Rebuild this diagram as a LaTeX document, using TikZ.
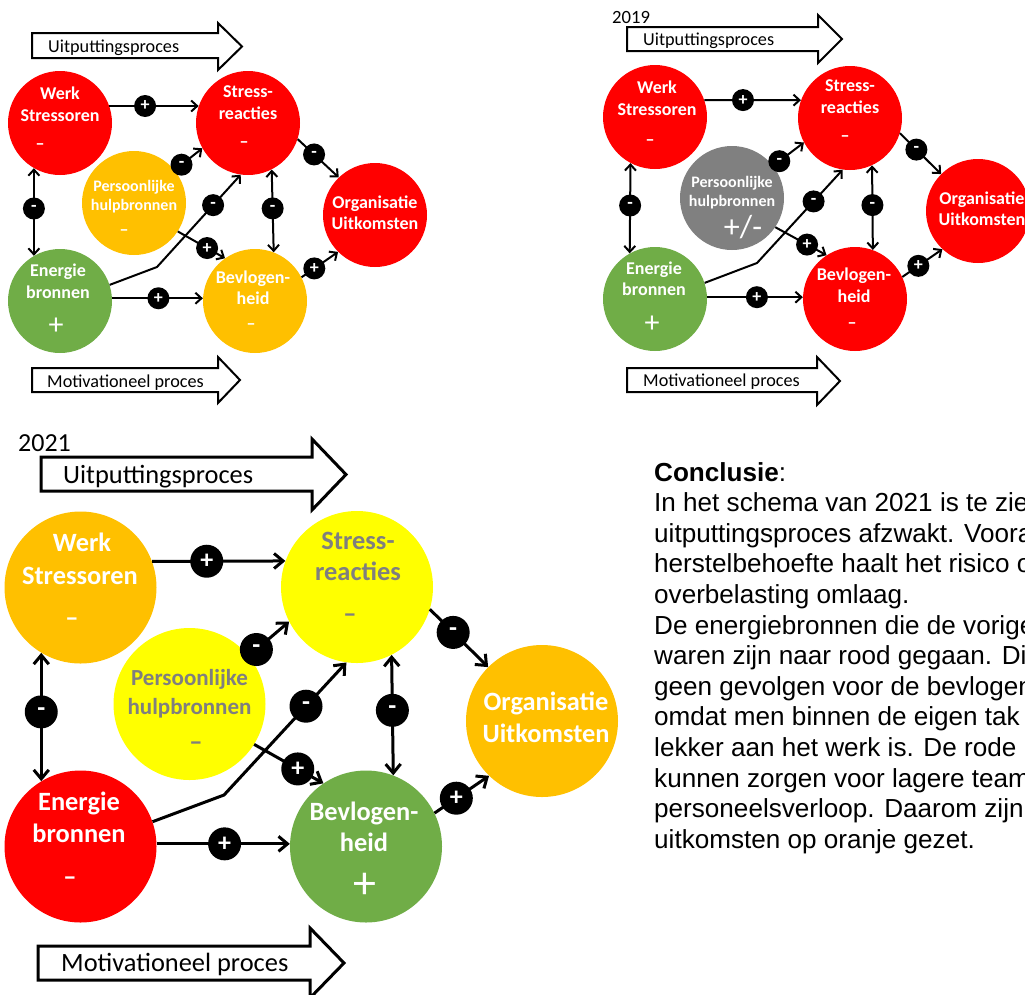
\documentclass[tikz,border=0pt]{standalone}
\usepackage{fontspec}
\setmainfont{Carlito}
\newfontfamily\arialfont{Liberation Sans}
\usetikzlibrary{arrows.meta}
\definecolor{cred}{RGB}{255,0,0}
\definecolor{corange}{RGB}{255,192,0}
\definecolor{cgreen}{RGB}{112,173,71}
\definecolor{cyellow}{RGB}{255,255,0}
\definecolor{cgrey}{RGB}{128,128,128}
\definecolor{ctxtgrey}{RGB}{127,127,127}
\begin{document}
\begin{tikzpicture}[x=1pt,y=-1pt,
  bubS/.style={circle, minimum size=104pt, inner sep=0pt},
  bubL/.style={circle, minimum size=152pt, inner sep=0pt},
  lblS/.style={anchor=base, inner sep=0pt, text=white, font=\bfseries\fontsize{18}{18}\selectfont},
  lblSs/.style={lblS, font=\bfseries\fontsize{16}{16}\selectfont},
  sgnS/.style={anchor=base, inner sep=0pt, text=white, font=\fontsize{30}{30}\selectfont},
  lblL/.style={anchor=base, inner sep=0pt, text=white, font=\bfseries\fontsize{26.4}{26.4}\selectfont},
  lblLs/.style={lblL, font=\bfseries\fontsize{23}{23}\selectfont},
  sgnL/.style={anchor=base, inner sep=0pt, text=white, font=\fontsize{46}{46}\selectfont},
  badS/.style={circle, fill=black, minimum size=22pt, inner sep=0pt, text=white, font=\bfseries\fontsize{18}{18}\selectfont},
  badL/.style={circle, fill=black, minimum size=33pt, inner sep=0pt, text=white, font=\bfseries\fontsize{26}{26}\selectfont},
  conS/.style={line width=2pt, -{Straight Barb[length=6pt,width=11pt]}},
  dconS/.style={line width=2pt, {Straight Barb[length=6pt,width=11pt]}-{Straight Barb[length=6pt,width=11pt]}},
  conL/.style={line width=3pt, -{Straight Barb[length=9pt,width=15pt]}},
  dconL/.style={line width=3pt, {Straight Barb[length=9pt,width=15pt]}-{Straight Barb[length=9pt,width=15pt]}},
  blkS/.style={draw=black, line width=2pt, fill=white},
  blkL/.style={draw=black, line width=3pt, fill=white},
  arrS/.style={anchor=base west, inner sep=0pt, font=\fontsize{18.2}{18.2}\selectfont},
  arrL/.style={anchor=base west, inner sep=0pt, font=\fontsize{26.4}{26.4}\selectfont},
  yrS/.style={anchor=base west, inner sep=0pt, font=\fontsize{18.7}{18.7}\selectfont},
  yrL/.style={anchor=base west, inner sep=0pt, font=\fontsize{26}{26}\selectfont},
  body/.style={anchor=base west, inner sep=0pt, font=\arialfont\fontsize{26.1}{30}\selectfont},
]
\useasboundingbox (0,0) rectangle (1025,994);
\clip (0,0) rectangle (1025,994);

% ================= TOP LEFT =================
\draw[blkS] (32,33) -- (218,33) -- (218,23) -- (242,46.5) -- (218,70) -- (218,58) -- (32,58) -- cycle;
\node[arrS] (tlU) at (48,52.7) {Uitputtingsproces};
\draw[blkS] (32,368) -- (218,368) -- (218,357) -- (240,380) -- (218,403) -- (218,392) -- (32,392) -- cycle;
\node[arrS] (tlM) at (47,387) {Motivationeel proces};

\node[bubS, fill=cred] (tlW) at (60,123) {};
\node[bubS, fill=cred] (tlS) at (248,123) {};
\node[bubS, fill=corange] (tlP) at (134,203) {};
\node[bubS, fill=cred] (tlO) at (375,215) {};
\node[bubS, fill=cgreen] (tlE) at (60,301) {};
\node[bubS, fill=corange] (tlB) at (255,301) {};

\node[lblS] (tlWa) at (60,99) {Werk};
\node[lblS] (tlWb) at (60,121) {Stressoren};
\node[lblS] (tlWc) at (40,149) {–};
\node[lblS] (tlSa) at (248,97) {Stress-};
\node[lblS] (tlSb) at (248,119) {reacties};
\node[lblS] (tlSc) at (244,147) {–};
\node[lblSs] (tlPa) at (134,191) {Persoonlijke};
\node[lblSs] (tlPb) at (134,210) {hulpbronnen};
\node[lblS] (tlPc) at (124,235) {–};
\node[lblS] (tlOa) at (375,208) {Organisatie};
\node[lblS] (tlOb) at (375,229) {Uitkomsten};
\node[lblS] (tlEa) at (58,276) {Energie};
\node[lblS] (tlEb) at (58,298) {bronnen};
\node[sgnS] (tlEc) at (56,334) {+};
\node[lblS] (tlBa) at (253,283) {Bevlogen-};
\node[lblS] (tlBb) at (253,304) {heid};
\node[lblS] (tlBc) at (251,329) {–};

\coordinate (tlK) at (157,267);
\draw[conS] (tlW.19) -- node[badS,pos=.4] (tlb1) {+} (tlS.161);
\draw[conS] (tlS.-18) -- node[badS,pos=.4] (tlb2) {-} (tlO.134);
\draw[conS] (tlP.39) -- node[badS,pos=.25] (tlb3) {-} (tlS.-151);
\draw[conS] (tlE.18) -- (tlK) -- node[badS,pos=.67] (tlb4) {-} (tlS.-98);
\draw[conS] (tlP.-33) -- node[badS,pos=.62] (tlb5) {+} (tlB.125);
\draw[dconS] (tlS.-63) -- node[badS,pos=.47] (tlb6) {-} (tlB.69);
\draw[dconS] (tlW.-120) -- node[badS,pos=.46] (tlb7) {-} (tlE.120);
\draw[conS] (tlE.3) -- node[badS,pos=.51] (tlb8) {+} (tlB.177);
\draw[conS] (tlB.27) -- node[badS,pos=.35] (tlb9) {+} (tlO.-135);

% ================= TOP RIGHT =================
\node[yrS] (trY) at (612,23) {2019};
\draw[blkS] (627,27) -- (818,27) -- (818,15) -- (842,39) -- (818,63) -- (818,51) -- (627,51) -- cycle;
\node[arrS] (trU) at (643,45) {Uitputtingsproces};
\draw[blkS] (627,368) -- (817,368) -- (817,357) -- (840,381) -- (817,405) -- (817,392) -- (627,392) -- cycle;
\node[arrS] (trM) at (643,386) {Motivationeel proces};

\node[bubS, fill=cred] (trW) at (655,117) {};
\node[bubS, fill=cred] (trS) at (850,118) {};
\node[bubS, fill=cgrey] (trP) at (732,198) {};
\node[bubS, fill=cred] (trO) at (978,211) {};
\node[bubS, fill=cgreen] (trE) at (655,299) {};
\node[bubS, fill=cred] (trB) at (855,299) {};

\node[lblS] (trWa) at (657,93) {Werk};
\node[lblS] (trWb) at (657,115) {Stressoren};
\node[lblS] (trWc) at (650,145) {–};
\node[lblS] (trSa) at (850,91) {Stress-};
\node[lblS] (trSb) at (850,113) {reacties};
\node[lblS] (trSc) at (845,141) {–};
\node[lblSs] (trPa) at (732,187) {Persoonlijke};
\node[lblSs] (trPb) at (732,206) {hulpbronnen};
\node[anchor=base, inner sep=0pt, text=white, font=\fontsize{32}{32}\selectfont] (trPc) at (743,237.5) {+/-};
\node[lblS] (trOa) at (982,204) {Organisatie};
\node[lblS] (trOb) at (982,225) {Uitkomsten};
\node[lblS] (trEa) at (654,274) {Energie};
\node[lblS] (trEb) at (654,295) {bronnen};
\node[sgnS] (trEc) at (652,332) {+};
\node[lblS] (trBa) at (854,280) {Bevlogen-};
\node[lblS] (trBb) at (854,302) {heid};
\node[lblS] (trBc) at (852,328) {–};

\coordinate (trK) at (757,263);
\draw[conS] (trW.19) -- node[badS,pos=.4] (trb1) {+} (trS.160);
\draw[conS] (trS.-17) -- node[badS,pos=.4] (trb2) {-} (trO.135);
\draw[conS] (trP.38) -- node[badS,pos=.2] (trb3) {-} (trS.-152);
\draw[conS] (trE.18) -- (trK) -- node[badS,pos=.66] (trb4) {-} (trS.-98);
\draw[conS] (trP.-34) -- node[badS,pos=.62] (trb5) {+} (trB.123);
\draw[dconS] (trS.-65) -- node[badS,pos=.47] (trb6) {-} (trB.70);
\draw[dconS] (trW.-118) -- node[badS,pos=.47] (trb7) {-} (trE.119);
\draw[conS] (trE.2) -- node[badS,pos=.52] (trb8) {+} (trB.178);
\draw[conS] (trB.25) -- node[badS,pos=.4] (trb9) {+} (trO.-133);

% ================= BOTTOM =================
\node[yrL] (bY) at (18,451) {2021};
\draw[blkL] (41,457) -- (312,457) -- (312,439) -- (346,474.5) -- (312,510) -- (312,491) -- (41,491) -- cycle;
\node[arrL] (bU) at (63,483) {Uitputtingsproces};
\draw[blkL] (38,946) -- (310,946) -- (310,928) -- (344,963) -- (310,998) -- (310,980) -- (38,980) -- cycle;
\node[arrL] (bM) at (61,971) {Motivationeel proces};

\node[bubL, fill=corange] (bW) at (80.5,587.5) {};
\node[bubL, fill=cyellow] (bS) at (357,587) {};
\node[bubL, fill=cyellow] (bP) at (189.5,704) {};
\node[bubL, fill=corange] (bO) at (542,721) {};
\node[bubL, fill=cred] (bE) at (80.5,846.5) {};
\node[bubL, fill=cgreen] (bB) at (366,846.5) {};

\node[lblL] (bWa) at (82,551.5) {Werk};
\node[lblL] (bWb) at (80,584.5) {Stressoren};
\node[lblL] (bWc) at (72,626.5) {–};
\node[lblL, text=ctxtgrey] (bSa) at (358,549.5) {Stress-};
\node[lblL, text=ctxtgrey] (bSb) at (358,580.5) {reacties};
\node[lblL, text=ctxtgrey] (bSc) at (350,622.5) {–};
\node[lblLs, text=ctxtgrey] (bPa) at (189.5,685) {Persoonlijke};
\node[lblLs, text=ctxtgrey] (bPb) at (189.5,714) {hulpbronnen};
\node[lblL, text=ctxtgrey] (bPc) at (196,750) {–};
\node[lblL] (bOa) at (546,710.5) {Organisatie};
\node[lblL] (bOb) at (546,742.5) {Uitkomsten};
\node[lblL] (bEa) at (79,810.5) {Energie};
\node[lblL] (bEb) at (79,842.5) {bronnen};
\node[lblL] (bEc) at (70,885.5) {–};
\node[lblL] (bBa) at (364,820.5) {Bevlogen-};
\node[lblL] (bBb) at (364,851.5) {heid};
\node[sgnL] (bBc) at (365,898) {+};

\coordinate (bK) at (224,795);
\draw[conL] (bW.20) -- node[badL,pos=.41] (bb1) {+} (bS.160);
\draw[conL] (bS.-17) -- node[badL,pos=.4] (bb2) {-} (bO.135);
\draw[conL] (bP.39) -- node[badL,pos=.19] (bb3) {-} (bS.-153);
\draw[conL] (bE.19) -- (bK) -- node[badL,pos=.67] (bb4) {-} (bS.-98);
\draw[conL] (bP.-32) -- node[badL,pos=.63] (bb5) {+} (bB.124);
\draw[dconL] (bS.-63) -- node[badL,pos=.46] (bb6) {-} (bB.69);
\draw[dconL] (bW.-121) -- node[badL,pos=.46] (bb7) {-} (bE.121);
\draw[conL] (bE.2) -- node[badL,pos=.51] (bb8) {+} (bB.178);
\draw[conL] (bB.26) -- node[badL,pos=.4] (bb9) {+} (bO.-134);

% ================= CONCLUSION TEXT =================
\node[body] (t0) at (654,481) {\bfseries Conclusie\mdseries:};
\node[body] (t1) at (654,511.6) {In het schema van 2021 is te zien};
\node[body] (t2) at (654,542.2) {uitputtingsproces afzwakt. Vooral};
\node[body] (t3) at (654,572.8) {herstelbehoefte haalt het risico op};
\node[body] (t4) at (654,603.4) {overbelasting omlaag.};
\node[body] (t5) at (654,634.0) {De energiebronnen die de vorige};
\node[body] (t6) at (654,664.6) {waren zijn naar rood gegaan. Dit};
\node[body] (t7) at (654,695.2) {geen gevolgen voor de bevlogenheid};
\node[body] (t8) at (654,725.8) {omdat men binnen de eigen tak};
\node[body] (t9) at (654,756.4) {lekker aan het werk is. De rode};
\node[body] (t10) at (654,787.0) {kunnen zorgen voor lagere team};
\node[body] (t11) at (654,817.6) {personeelsverloop. Daarom zijn};
\node[body] (t12) at (654,848.2) {uitkomsten op oranje gezet.};
\end{tikzpicture}
\end{document}
